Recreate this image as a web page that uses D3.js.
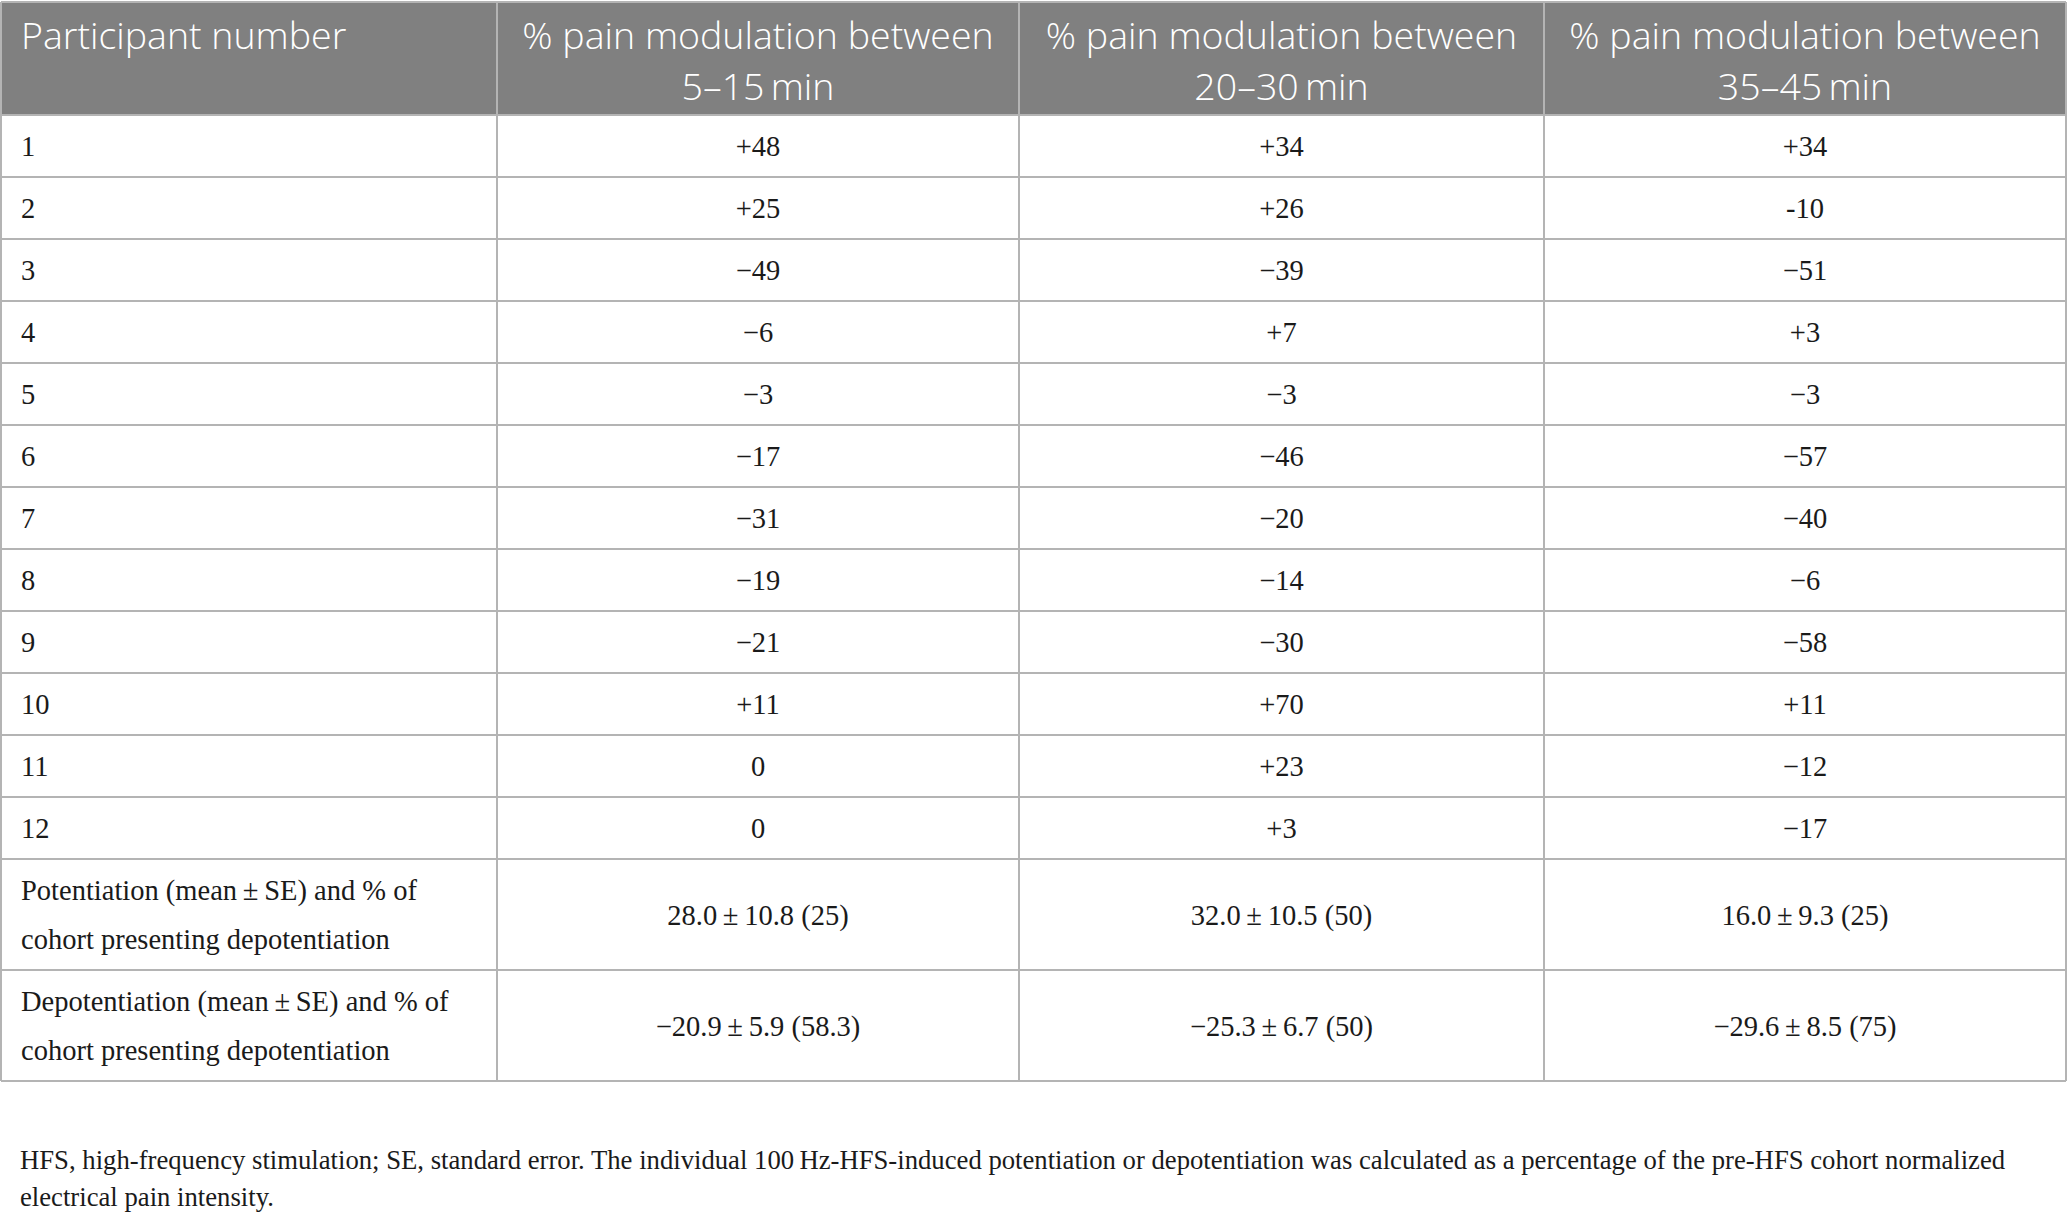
<!DOCTYPE html>
<html><head><meta charset="utf-8">
<script src="https://cdn.jsdelivr.net/npm/d3@7"></script>
<style>html,body{margin:0;padding:0;background:#fff;}</style>
</head><body>
<svg id="c" width="2067" height="1219"></svg>
<script>
const headers = ["Participant number",
  "% pain modulation between|5–15\u2009min",
  "% pain modulation between|20–30\u2009min",
  "% pain modulation between|35–45\u2009min"];
const participants = ["1","2","3","4","5","6","7","8","9","10","11","12"];
const mod5to15  = ["+48","+25","−49","−6","−3","−17","−31","−19","−21","+11","0","0"];
const mod20to30 = ["+34","+26","−39","+7","−3","−46","−20","−14","−30","+70","+23","+3"];
const mod35to45 = ["+34","-10","−51","+3","−3","−57","−40","−6","−58","+11","−12","−17"];
const summaryLabels = ["Potentiation (mean\u2009±\u2009SE) and % of|cohort presenting depotentiation",
                       "Depotentiation (mean\u2009±\u2009SE) and % of|cohort presenting depotentiation"];
const summary5to15  = ["28.0\u2009±\u200910.8 (25)", "−20.9\u2009±\u20095.9 (58.3)"];
const summary20to30 = ["32.0\u2009±\u200910.5 (50)", "−25.3\u2009±\u20096.7 (50)"];
const summary35to45 = ["16.0\u2009±\u20099.3 (25)", "−29.6\u2009±\u20098.5 (75)"];
const footnote = ["HFS, high-frequency stimulation; SE, standard error. The individual 100\u2009Hz-HFS-induced potentiation or depotentiation was calculated as a percentage of the pre-HFS cohort normalized",
                  "electrical pain intensity."];

const svg = d3.select("#c");
const colEdges = [1, 497, 1019, 1544, 2066];
const headerTop = 2, headerH = 113, rowH = 62, sumH = 111;
const serif = "'Liberation Serif', 'DejaVu Serif', serif";
const sans = "'Open Sans', 'Noto Sans', sans-serif";
const lineCol = "#b4b4b4";

const rows = participants.map((p,i)=>({cells:[p, mod5to15[i], mod20to30[i], mod35to45[i]], h:rowH}));
summaryLabels.forEach((l,i)=>rows.push({cells:[l, summary5to15[i], summary20to30[i], summary35to45[i]], h:sumH}));

let y = headerTop + headerH;
rows.forEach(r=>{ r.y = y; y += r.h; });
const tableBottom = y;

svg.append("rect").attr("x",colEdges[0]).attr("y",headerTop).attr("width",colEdges[4]-colEdges[0]).attr("height",headerH).attr("fill","#808080");

headers.forEach((h,ci)=>{
  const lines = h.split("|");
  const x = ci===0 ? colEdges[0]+20 : (colEdges[ci]+colEdges[ci+1])/2;
  lines.forEach((ln,li)=>{
    svg.append("text").attr("fill","#fff").attr("font-family",sans).attr("font-weight",300)
      .attr("font-size",37.5).attr("text-anchor", ci===0?"start":"middle")
      .attr("x",x).attr("y",headerTop+47+li*51.3).text(ln);
  });
});

rows.forEach(r=>{
  r.cells.forEach((c,ci)=>{
    const lines = c.split("|");
    const x = ci===0 ? colEdges[0]+20 : (colEdges[ci]+colEdges[ci+1])/2;
    const lh = 49;
    const cy = r.y + r.h/2;
    lines.forEach((ln,li)=>{
      svg.append("text").attr("fill","#1a1a1a").attr("font-family",serif).attr("font-size",28.5)
        .attr("text-anchor", ci===0?"start":"middle")
        .attr("x",x).attr("y",cy + (li-(lines.length-1)/2)*lh + 10).text(ln);
    });
  });
});

const g = svg.append("g").attr("stroke",lineCol).attr("stroke-width",2);
g.append("line").attr("x1",colEdges[0]).attr("x2",colEdges[4]).attr("y1",headerTop).attr("y2",headerTop);
rows.forEach(r=>g.append("line").attr("x1",colEdges[0]).attr("x2",colEdges[4]).attr("y1",r.y).attr("y2",r.y));
g.append("line").attr("x1",colEdges[0]).attr("x2",colEdges[4]).attr("y1",tableBottom).attr("y2",tableBottom);
colEdges.forEach(x=>g.append("line").attr("x1",x).attr("x2",x).attr("y1",headerTop).attr("y2",tableBottom));

footnote.forEach((f,i)=>{
  svg.append("text").attr("x",20).attr("y",1169+i*37).attr("font-family",serif).attr("font-size",26.7)
    .attr("fill","#1a1a1a").text(f);
});
</script>
</body></html>
